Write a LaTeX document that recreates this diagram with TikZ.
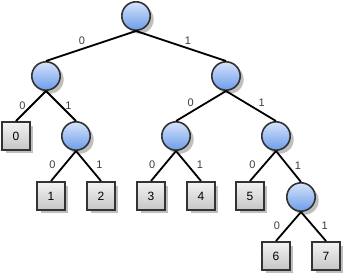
\documentclass[tikz,border=0pt]{standalone}
\usepackage{fontspec}
\setmainfont{Liberation Sans}
\usetikzlibrary{shadows}
\definecolor{bordc}{RGB}{51,51,51}
\definecolor{ctop}{RGB}{214,227,250}
\definecolor{cbot}{RGB}{108,156,234}
\definecolor{stop}{RGB}{242,242,242}
\definecolor{sbot}{RGB}{198,198,198}
\definecolor{lblc}{RGB}{60,60,60}
\begin{document}
\begin{tikzpicture}[x=1pt,y=-1pt,
  inode/.style={circle, draw=bordc, line width=1.6pt, minimum size=28.4pt, inner sep=0pt,
    top color=ctop, bottom color=cbot,
    drop shadow={shadow xshift=3.5pt, shadow yshift=-3.5pt, fill=black, opacity=.25}},
  leaf/.style={rectangle, draw=bordc, line width=2.2pt, minimum size=27.8pt, inner sep=0pt,
    top color=stop, bottom color=sbot, text=black, font=\fontsize{12}{14}\selectfont,
    drop shadow={shadow xshift=3.5pt, shadow yshift=-3.5pt, fill=black, opacity=.25}},
  edge/.style={line width=1.8pt, black},
  lbl/.style={font=\fontsize{11}{13}\selectfont, text=lblc, inner sep=0pt, pos=.5}]
\useasboundingbox (0,0) rectangle (346,276);
% internal nodes
\node[inode] (r) at (136,16) {};
\node[inode] (a) at (46,76) {};
\node[inode] (b) at (226,76) {};
\node[inode] (c) at (76,136) {};
\node[inode] (d) at (176,136) {};
\node[inode] (e) at (276,136) {};
\node[inode] (f) at (301,197) {};
% leaves
\node[leaf] (l0) at (16,136) {0};
\node[leaf] (l1) at (51,196) {1};
\node[leaf] (l2) at (101,196) {2};
\node[leaf] (l3) at (151,196) {3};
\node[leaf] (l4) at (201,196) {4};
\node[leaf] (l5) at (250,196) {5};
\node[leaf] (l6) at (276,256) {6};
\node[leaf] (l7) at (326,256) {7};
% edges
\draw[edge] (r.south) -- (a.north) node[lbl, xshift=-9pt, yshift=5pt] {0};
\draw[edge] (r.south) -- (b.north) node[lbl, xshift=7pt, yshift=5.5pt] {1};
\draw[edge] (a.south) -- (l0.north) node[lbl, xshift=-8.5pt] {0};
\draw[edge] (a.south) -- (c.north) node[lbl, xshift=7.5pt] {1};
\draw[edge] (c.south) -- (l1.north) node[lbl, xshift=-11pt, yshift=1pt] {0};
\draw[edge] (c.south) -- (l2.north) node[lbl, xshift=11pt, yshift=1pt] {1};
\draw[edge] (b.south) -- (d.north) node[lbl, xshift=-10.3pt, yshift=3.3pt] {0};
\draw[edge] (b.south) -- (e.north) node[lbl, xshift=10.7pt, yshift=3.3pt] {1};
\draw[edge] (d.south) -- (l3.north) node[lbl, xshift=-11.2pt, yshift=1pt] {0};
\draw[edge] (d.south) -- (l4.north) node[lbl, xshift=11.5pt, yshift=1pt] {1};
\draw[edge] (e.south) -- (l5.north) node[lbl, xshift=-10.5pt, yshift=1pt] {0};
\draw[edge] (e.south) -- (f.north) node[lbl, xshift=9.5pt, yshift=1pt] {1};
\draw[edge] (f.south) -- (l6.north) node[lbl, xshift=-11.5pt, yshift=.5pt] {0};
\draw[edge] (f.south) -- (l7.north) node[lbl, xshift=11.2pt, yshift=.5pt] {1};
\end{tikzpicture}
\end{document}
